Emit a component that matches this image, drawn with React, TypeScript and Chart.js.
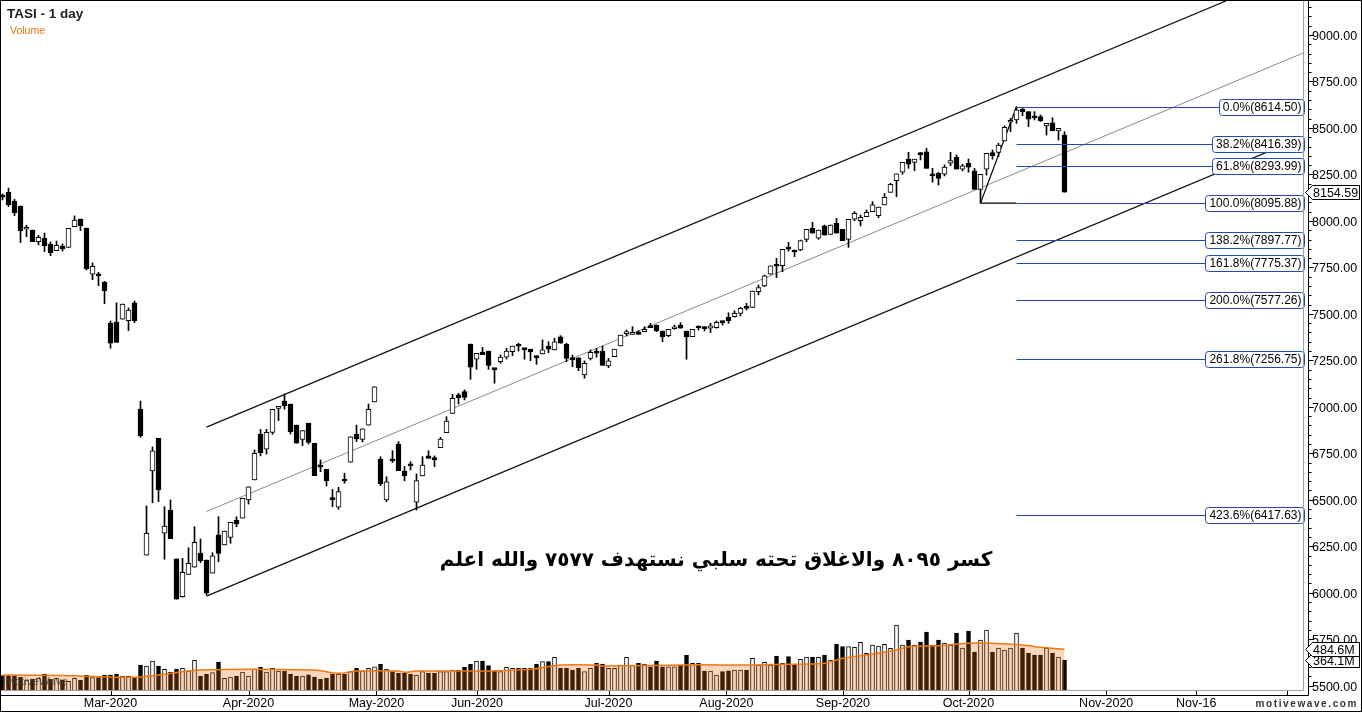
import React, { useEffect, useRef } from 'react';
import { Chart, registerables } from 'chart.js';

Chart.register(...registerables);

// ---------- DATA ----------
const opens = [8130, 8154, 8107, 8080, 7955, 7951, 7888, 7907, 7876, 7840, 7865, 7858, 7969, 8010, 7962, 7713, 7706, 7670, 7451, 7456,
  7471, 7463, 7559, 6988, 6202, 6655, 6831, 6320, 6445, 6182, 5979, 6099, 6137, 6212, 6176, 6105, 6311, 6257, 6298, 6391,
  6401, 6499, 6607, 6854, 6772, 6863, 6992, 7031, 7015, 6902, 6825, 6912, 6804, 6680, 6664, 6505, 6460, 6604, 6702, 6852,
  6825, 6901, 7026, 6719, 6499, 6712, 6800, 6655, 6685, 6487, 6628, 6736, 6719, 6780, 6861, 6965, 7064, 7082, 7338, 7257,
  7295, 7300, 7205, 7243, 7267, 7297, 7329, 7311, 7310, 7268, 7284, 7327, 7306, 7377, 7336, 7257, 7264, 7171, 7261, 7300,
  7300, 7220, 7270, 7327, 7394, 7390, 7404, 7404, 7431, 7440, 7408, 7383, 7420, 7440, 7408, 7377, 7427, 7424, 7423, 7426,
  7456, 7482, 7485, 7503, 7539, 7535, 7619, 7650, 7713, 7759, 7759, 7850, 7836, 7844, 7901, 7960, 7907, 7973, 7928, 7987,
  7955, 7901, 8009, 8001, 8023, 8050, 8028, 8086, 8154, 8216, 8262, 8332, 8315, 8360, 8372, 8245, 8256, 8251, 8310, 8342,
  8279, 8310, 8269, 8170, 8279, 8367, 8369, 8430, 8531, 8543, 8602, 8588, 8556, 8561, 8511, 8528, 8484, 8462];
const highs = [8145, 8177, 8116, 8080, 7977, 7951, 7923, 7935, 7887, 7892, 7876, 7960, 8027, 8010, 7962, 7774, 7724, 7675, 7462, 7559,
  7553, 7532, 7569, 7031, 6467, 6784, 6831, 6463, 6499, 6182, 6185, 6242, 6355, 6289, 6176, 6215, 6409, 6332, 6379, 6409,
  6508, 6570, 6768, 6879, 6879, 6987, 6998, 7069, 7015, 6902, 6872, 6912, 6804, 6714, 6664, 6556, 6567, 6643, 6839, 6902,
  6882, 7015, 7108, 6732, 6624, 6764, 6813, 6680, 6705, 6639, 6732, 6764, 6736, 6836, 6947, 7067, 7073, 7091, 7338, 7288,
  7320, 7300, 7205, 7279, 7315, 7327, 7342, 7313, 7310, 7274, 7360, 7350, 7369, 7383, 7342, 7279, 7264, 7247, 7306, 7315,
  7327, 7261, 7310, 7386, 7413, 7431, 7410, 7431, 7449, 7440, 7408, 7417, 7440, 7453, 7408, 7417, 7436, 7431, 7449, 7462,
  7462, 7506, 7516, 7535, 7557, 7623, 7655, 7709, 7758, 7799, 7847, 7885, 7844, 7897, 7955, 7993, 7951, 7978, 7978, 8014,
  7955, 8009, 8050, 8032, 8059, 8104, 8075, 8147, 8202, 8253, 8315, 8369, 8332, 8369, 8391, 8283, 8262, 8301, 8369, 8355,
  8305, 8333, 8283, 8251, 8364, 8382, 8418, 8511, 8552, 8614.5, 8606, 8588, 8588, 8570, 8525, 8555, 8498, 8480];
const lows = [8113, 8077, 8028, 7883, 7915, 7888, 7871, 7835, 7813, 7840, 7838, 7858, 7969, 7948, 7736, 7684, 7652, 7555, 7315, 7347,
  7471, 7410, 7453, 6836, 6202, 6484, 6490, 6180, 6291, 5965, 5976, 6099, 6137, 6162, 5988, 6105, 6167, 6257, 6266, 6355,
  6401, 6477, 6607, 6736, 6746, 6852, 6926, 6987, 6854, 6804, 6791, 6800, 6630, 6651, 6574, 6463, 6449, 6589, 6702, 6813,
  6811, 6901, 7026, 6576, 6490, 6700, 6657, 6603, 6660, 6445, 6628, 6723, 6678, 6780, 6861, 6965, 7015, 7037, 7148, 7202,
  7281, 7202, 7127, 7234, 7257, 7275, 7300, 7256, 7248, 7229, 7284, 7291, 7306, 7342, 7243, 7216, 7194, 7154, 7252, 7267,
  7223, 7211, 7270, 7327, 7381, 7390, 7390, 7404, 7426, 7404, 7350, 7377, 7417, 7423, 7256, 7377, 7413, 7408, 7399, 7423,
  7440, 7449, 7482, 7489, 7521, 7535, 7602, 7646, 7713, 7695, 7727, 7838, 7808, 7840, 7888, 7934, 7901, 7924, 7928, 7934,
  7894, 7858, 8001, 7973, 8023, 8050, 8017, 8086, 8154, 8130, 8251, 8283, 8270, 8328, 8283, 8208, 8193, 8242, 8297, 8279,
  8269, 8262, 8170, 8095.88, 8247, 8332, 8346, 8430, 8480, 8525, 8566, 8507, 8543, 8535, 8462, 8485, 8435, 8154.59];
const closes = [8128, 8087, 8044, 7948, 7966, 7888, 7912, 7867, 7829, 7869, 7849, 7960, 8005, 7974, 7743, 7756, 7704, 7625, 7342, 7347,
  7553, 7521, 7463, 6845, 6320, 6763, 6553, 6359, 6291, 5965, 6110, 6158, 6271, 6172, 5997, 6198, 6212, 6332, 6379, 6370,
  6508, 6570, 6750, 6753, 6863, 6987, 6997, 7006, 6866, 6804, 6872, 6809, 6630, 6676, 6603, 6501, 6544, 6601, 6839, 6827,
  6882, 6987, 7108, 6585, 6597, 6709, 6657, 6630, 6682, 6603, 6686, 6723, 6716, 6827, 6924, 7046, 7049, 7051, 7213, 7288,
  7281, 7223, 7200, 7267, 7300, 7327, 7326, 7308, 7295, 7265, 7306, 7310, 7350, 7342, 7261, 7254, 7211, 7234, 7293, 7288,
  7223, 7248, 7310, 7386, 7397, 7401, 7390, 7417, 7426, 7410, 7377, 7417, 7426, 7423, 7376, 7417, 7424, 7421, 7436, 7455,
  7453, 7463, 7503, 7530, 7530, 7623, 7641, 7704, 7758, 7756, 7847, 7848, 7833, 7894, 7955, 7934, 7951, 7924, 7978, 7934,
  7894, 8009, 8041, 8020, 8046, 8086, 8075, 8127, 8197, 8253, 8315, 8305, 8332, 8357, 8283, 8242, 8229, 8289, 8324, 8279,
  8296, 8289, 8170, 8251, 8364, 8351, 8408, 8504, 8539, 8597, 8588, 8547, 8554, 8539, 8525, 8485, 8498, 8154.59];
// volume, millions of shares
const volumes = [187, 187, 187, 169, 139, 150, 158, 206, 150, 158, 139, 124, 158, 139, 195, 165, 165, 195, 195, 206,
  184, 184, 158, 307, 296, 352, 296, 259, 225, 262, 270, 240, 360, 184, 206, 221, 341, 158, 172, 184,
  229, 184, 262, 285, 229, 270, 240, 240, 206, 184, 184, 198, 172, 146, 161, 206, 206, 206, 232, 270,
  243, 270, 288, 315, 262, 232, 214, 214, 203, 195, 232, 214, 214, 232, 232, 250, 250, 282, 315, 352,
  352, 300, 243, 232, 282, 270, 270, 270, 270, 319, 345, 345, 394, 270, 270, 250, 270, 232, 270, 326,
  319, 270, 270, 307, 394, 307, 326, 319, 288, 352, 288, 288, 288, 307, 420, 326, 326, 240, 240, 195,
  232, 243, 250, 250, 250, 383, 307, 338, 307, 409, 326, 401, 307, 372, 398, 394, 394, 420, 364, 544,
  514, 514, 507, 563, 439, 533, 521, 540, 495, 758, 533, 589, 533, 566, 679, 533, 589, 555, 533, 668,
  499, 690, 454, 589, 702, 454, 499, 476, 499, 668, 499, 443, 420, 420, 499, 443, 398, 364.1];
// volume moving average (bar index, millions)
const volMaIndex = [0, 10, 22, 33, 52, 56, 59, 66, 67, 69, 81, 88, 93, 99, 100, 116, 123, 130, 137, 140, 144, 149, 151, 156, 161, 165, 170, 173, 177];
const volMaValue = [195, 190, 169, 251, 251, 214, 240, 240, 225, 240, 240, 259, 307, 307, 296, 310, 307, 315, 326, 383, 420, 476, 514, 525, 552, 552, 533, 507, 484.6];

// trend channel anchors [bar index, price]
const channelUpper = [[34, 6891], [203.9, 9183]];
const channelMiddle = [[34, 6437], [216.75, 8903]];
const channelLower = [[34, 5982], [216.75, 8451]];

// Fibonacci extension
const fibLowIndex = 163;
const fibHighIndex = 169;
const fibPct = [0.0, 38.2, 61.8, 100.0, 138.2, 161.8, 200.0, 261.8, 423.6];
const fibPrice = [8614.50, 8416.39, 8293.99, 8095.88, 7897.77, 7775.37, 7577.26, 7256.75, 6417.63];

// axes
const xTickPos = [18, 41, 62.33, 79.08, 101, 120.65, 140.07, 161, 183.95, 198.95, 214.07];
const xTickLabels = ['Mar-2020', 'Apr-2020', 'May-2020', 'Jun-2020', 'Jul-2020', 'Aug-2020', 'Sep-2020', 'Oct-2020', 'Nov-2020', 'Nov-16', ''];
const xMin = -0.25;
const xMax = 216.75;
const yMin = 5476.8;
const yMax = 9183.0;
const volMin = 25.9;
const volMax = 7785;
const yMinorStep = 50;
const yLabelStep = 250;

const lastPrice = 8154.59;
const volumeTags = [364.1, 484.6];
const volumeTagText = ['364.1M', '484.6M'];

const titleText = 'TASI - 1 day';
const volumeLabel = 'Volume';
const noteText = 'كسر ٨٠٩٥ والاغلاق تحته سلبي نستهدف ٧٥٧٧ والله اعلم';
const watermark = 'MotiveWave';
const siteText = 'motivewave.com';

// ---------- STYLE ----------
const FONT = '"Liberation Sans", Arial, Helvetica, sans-serif';
const FIB_BLUE = '#1f4cb4';
const FRAME_GREY = '#a0a0a0';

const overlayPlugin = {
  id: 'overlay',
  afterDatasetsDraw(chart: any) {
    const { ctx, chartArea: ca, scales } = chart;
    const xs = scales.x;
    const ys = scales.y;
    ctx.save();
    // watermark over the volume pane
    ctx.font = `11.5px ${FONT}`;
    ctx.fillStyle = 'rgba(60,60,60,0.75)';
    ctx.textBaseline = 'alphabetic';
    ctx.textAlign = 'left';
    ctx.fillText(watermark, 5, 685);

    const x0 = xs.getPixelForValue(fibHighIndex);
    ctx.strokeStyle = FIB_BLUE;
    ctx.lineWidth = 1;
    fibPrice.forEach((p) => {
      const y = Math.round(ys.getPixelForValue(p)) + 0.5;
      ctx.beginPath();
      ctx.moveTo(x0, y);
      ctx.lineTo(ca.right, y);
      ctx.stroke();
    });
    ctx.font = `12px ${FONT}`;
    ctx.textBaseline = 'middle';
    ctx.textAlign = 'right';
    fibPct.forEach((pct, k) => {
      const txt = `${pct.toFixed(1)}%(${fibPrice[k].toFixed(2)})`;
      const w = Math.ceil(ctx.measureText(txt).width) + 6;
      const right = ca.right + 1;
      const yc = Math.round(ys.getPixelForValue(fibPrice[k]));
      ctx.beginPath();
      ctx.roundRect(right - w + 0.5, yc - 8 + 0.5, w, 16, 3);
      ctx.fillStyle = '#ffffff';
      ctx.fill();
      ctx.strokeStyle = FIB_BLUE;
      ctx.stroke();
      ctx.fillStyle = '#000000';
      ctx.fillText(txt, right - 2.5, yc + 1);
    });
    ctx.restore();
  },
  afterDraw(chart: any) {
    const { ctx, chartArea: ca, scales } = chart;
    const xs = scales.x;
    const ys = scales.y;
    const yv = scales.yv;
    ctx.save();
    // plot frame
    ctx.lineWidth = 1;
    ctx.strokeStyle = FRAME_GREY;
    ctx.beginPath();
    ctx.moveTo(0, ca.bottom + 0.5);
    ctx.lineTo(ca.right + 0.5, ca.bottom + 0.5);
    ctx.lineTo(ca.right + 0.5, 0);
    ctx.stroke();
    // axis lines
    const axX = ca.right + 5.5;
    const axY = ca.bottom + 5.5;
    ctx.strokeStyle = '#000';
    ctx.beginPath();
    ctx.moveTo(0, axY);
    ctx.lineTo(axX, axY);
    ctx.lineTo(axX, 0);
    ctx.stroke();
    // x ticks
    ctx.beginPath();
    xTickPos.forEach((v) => {
      const x = Math.round(xs.getPixelForValue(v)) + 0.5;
      ctx.moveTo(x, ca.bottom + 1);
      ctx.lineTo(x, axY);
    });
    ctx.stroke();
    // y ticks
    ctx.beginPath();
    ys.ticks.forEach((t: any) => {
      const v = t.value;
      if (Math.abs(v / yMinorStep - Math.round(v / yMinorStep)) > 1e-6) return;
      const y = Math.round(ys.getPixelForValue(v)) + 0.5;
      const len = Math.round(v) % yLabelStep === 0 ? 5 : 3;
      ctx.moveTo(axX, y);
      ctx.lineTo(axX + len, y);
    });
    ctx.stroke();

    // price / volume tags
    const tag = (yPix: number, text: string) => {
      const yy = Math.round(yPix) + 0.5;
      ctx.beginPath();
      ctx.moveTo(ca.right + 2.5, yy);
      ctx.lineTo(ca.right + 9.5, yy - 7);
      ctx.lineTo(1359.5, yy - 7);
      ctx.lineTo(1359.5, yy + 7);
      ctx.lineTo(ca.right + 9.5, yy + 7);
      ctx.closePath();
      ctx.fillStyle = '#fff';
      ctx.fill();
      ctx.strokeStyle = '#000';
      ctx.stroke();
      ctx.fillStyle = '#000';
      ctx.font = `12.5px ${FONT}`;
      ctx.textAlign = 'left';
      ctx.textBaseline = 'middle';
      ctx.fillText(text, ca.right + 10, yy + 1);
    };
    volumeTags.forEach((v, k) => tag(yv.getPixelForValue(v), volumeTagText[k]));
    tag(ys.getPixelForValue(lastPrice), lastPrice.toFixed(2));

    // title
    ctx.textAlign = 'left';
    ctx.textBaseline = 'alphabetic';
    ctx.fillStyle = '#1e1e1e';
    ctx.font = `bold 13.5px ${FONT}`;
    ctx.fillText(titleText, 7, 17.5);
    ctx.fillStyle = '#e8760f';
    ctx.font = `10.5px ${FONT}`;
    ctx.fillText(volumeLabel, 10, 34);

    // Arabic note
    ctx.fillStyle = '#000';
    ctx.font = 'bold 20px "DejaVu Sans", sans-serif';
    ctx.textAlign = 'center';
    ctx.direction = 'rtl';
    ctx.fillText(noteText, 716, 566);
    ctx.direction = 'ltr';

    // site text
    ctx.textAlign = 'right';
    ctx.fillStyle = '#333';
    ctx.font = `bold 10px ${FONT}`;
    (ctx as any).letterSpacing = '1.6px';
    ctx.fillText(siteText, 1358, 707);
    (ctx as any).letterSpacing = '0px';

    // outer border
    ctx.strokeStyle = '#000';
    ctx.lineWidth = 1;
    ctx.strokeRect(0.5, 0.5, chart.width - 1, chart.height - 1);
    ctx.restore();
  },
};

function buildConfig(): any {
  const idx = opens.map((_, i) => i);
  const up = idx.map((i) => closes[i] >= opens[i]);
  const lineDs = (pts: number[][], color: string, width: number, order: number) => ({
    type: 'line',
    data: pts.map((p) => ({ x: p[0], y: p[1] })),
    borderColor: color,
    borderWidth: width,
    pointRadius: 0,
    fill: false,
    tension: 0,
    yAxisID: 'y',
    order,
  });
  return {
    type: 'bar',
    data: {
      datasets: [
        {
          type: 'bar',
          label: 'body',
          data: idx.map((i) => ({ x: i, y: [opens[i], closes[i]] })),
          backgroundColor: idx.map((i) => (up[i] ? '#ffffff' : '#000000')),
          borderColor: '#000000',
          borderWidth: 1,
          borderSkipped: false,
          barThickness: 5,
          minBarLength: 2,
          grouped: false,
          yAxisID: 'y',
          order: 1,
        },
        {
          type: 'bar',
          label: 'wick',
          data: idx.map((i) => ({ x: i, y: [lows[i], highs[i]] })),
          backgroundColor: '#000000',
          borderWidth: 0,
          barThickness: 1,
          grouped: false,
          yAxisID: 'y',
          order: 2,
        },
        lineDs([[fibLowIndex, fibPrice[3]], [fibHighIndex, fibPrice[0]]], '#000', 1.2, 3),
        lineDs([[fibLowIndex, fibPrice[3]], [fibHighIndex, fibPrice[3]]], '#000', 1.2, 3),
        lineDs(channelUpper, '#111', 1.3, 4),
        lineDs(channelMiddle, '#8a8a8a', 1, 4),
        lineDs(channelLower, '#111', 1.3, 4),
        {
          type: 'line',
          label: 'volMA',
          data: volMaIndex.map((x, k) => ({ x, y: volMaValue[k] })),
          borderColor: '#ef7a12',
          borderWidth: 1.5,
          pointRadius: 0,
          tension: 0.3,
          fill: 'start',
          backgroundColor: 'rgba(232,106,19,0.27)',
          yAxisID: 'yv',
          order: 8,
        },
        {
          type: 'bar',
          label: 'volume',
          data: idx.map((i) => ({ x: i, y: volumes[i] })),
          backgroundColor: idx.map((i) => (up[i] ? '#ffffff' : '#000000')),
          borderColor: '#000000',
          borderWidth: 1,
          borderSkipped: false,
          barThickness: 4,
          grouped: false,
          yAxisID: 'yv',
          order: 9,
        },
      ],
    },
    options: {
      responsive: false,
      animation: false,
      devicePixelRatio: 1,
      events: [],
      layout: { padding: { left: 1, top: 1, right: 0, bottom: 0 } },
      plugins: { legend: { display: false }, tooltip: { enabled: false } },
      scales: {
        x: {
          type: 'linear',
          position: 'bottom',
          offset: false,
          min: xMin,
          max: xMax,
          afterBuildTicks: (s: any) => {
            s.ticks = xTickPos.map((v) => ({ value: v }));
          },
          afterFit: (s: any) => {
            s.height = 22;
            s.paddingLeft = 0;
            s.paddingRight = 0;
          },
          ticks: {
            autoSkip: false,
            maxRotation: 0,
            minRotation: 0,
            padding: 6,
            color: '#000',
            font: { family: FONT, size: 12.5 },
            callback: (_v: any, i: number) => xTickLabels[i],
          },
          grid: { display: false, drawTicks: false, offset: false },
          border: { display: false },
        },
        y: {
          type: 'linear',
          position: 'right',
          min: yMin,
          max: yMax,
          afterFit: (s: any) => {
            s.width = 59;
            s.paddingTop = 0;
            s.paddingBottom = 0;
          },
          ticks: {
            stepSize: yMinorStep,
            includeBounds: false,
            autoSkip: false,
            padding: 9,
            labelOffset: 1.5,
            color: '#000',
            font: { family: FONT, size: 12.5 },
            callback: (v: any) => (Math.round(v) % yLabelStep === 0 ? Number(v).toFixed(2) : ''),
          },
          grid: { display: false, drawTicks: false },
          border: { display: false },
        },
        yv: {
          type: 'linear',
          display: false,
          min: volMin,
          max: volMax,
        },
      },
    },
    plugins: [overlayPlugin],
  };
}

export default function App() {
  const ref = useRef<HTMLCanvasElement>(null);
  useEffect(() => {
    document.body.style.margin = '0';
    const chart = new Chart(ref.current as HTMLCanvasElement, buildConfig());
    return () => chart.destroy();
  }, []);
  return (
    <div style={{ position: 'absolute', left: 0, top: 0, width: 1362, height: 712, background: '#fff' }}>
      <canvas ref={ref} width={1362} height={712} style={{ display: 'block', width: 1362, height: 712 }} />
    </div>
  );
}
